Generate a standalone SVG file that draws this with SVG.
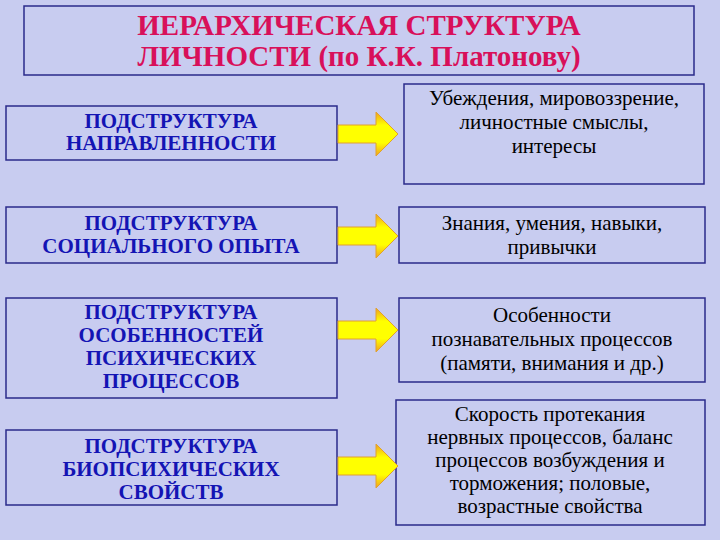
<svg xmlns="http://www.w3.org/2000/svg" width="720" height="540" viewBox="0 0 720 540">
<defs>
<linearGradient id="ar" x1="0" y1="0" x2="0" y2="1"><stop offset="0" stop-color="#f0a020"/><stop offset="0.3" stop-color="#ffff00"/><stop offset="0.7" stop-color="#ffff00"/><stop offset="1" stop-color="#f0a020"/></linearGradient>
<path id="arrow" d="M0,-9 H38 V-22 L60,0 L38,22 V9 H0 Z" fill="url(#ar)" stroke="#e0a030" stroke-width="1"/>
</defs>
<style>
.b{fill:none;stroke:#2a2a8a;stroke-width:1.5}
text{font-family:'Liberation Serif','Times New Roman','DejaVu Serif',serif;text-anchor:middle}
.t{font-weight:bold;font-size:29px;fill:#d8105a}
.l{font-weight:bold;font-size:21px;fill:#1414b4}
.r{font-size:21px;fill:#000}
</style>
<rect width="720" height="540" fill="#c8ccf0"/>
<g id="title"><rect class="b" x="24" y="6" width="670" height="69"/>
<text class="t" x="359" y="35">ИЕРАРХИЧЕСКАЯ СТРУКТУРА</text><text class="t" x="359" y="66">ЛИЧНОСТИ (по К.К. Платонову)</text></g>
<g id="n1"><rect class="b" x="6" y="106" width="331" height="54"/><text class="l" x="171" y="128">ПОДСТРУКТУРА</text><text class="l" x="171" y="150">НАПРАВЛЕННОСТИ</text></g>
<g id="n2"><rect class="b" x="6" y="207" width="331" height="56"/><text class="l" x="171" y="230">ПОДСТРУКТУРА</text><text class="l" x="171" y="253">СОЦИАЛЬНОГО ОПЫТА</text></g>
<g id="n3"><rect class="b" x="6" y="298" width="331" height="100"/><text class="l" x="171" y="319">ПОДСТРУКТУРА</text><text class="l" x="171" y="342">ОСОБЕННОСТЕЙ</text><text class="l" x="171" y="365">ПСИХИЧЕСКИХ</text><text class="l" x="171" y="388">ПРОЦЕССОВ</text></g>
<g id="n4"><rect class="b" x="6" y="430" width="331" height="75"/><text class="l" x="171" y="453">ПОДСТРУКТУРА</text><text class="l" x="171" y="476">БИОПСИХИЧЕСКИХ</text><text class="l" x="171" y="499">СВОЙСТВ</text></g>
<g id="r1"><rect class="b" x="404" y="84" width="300" height="100"/><text class="r" x="554" y="105">Убеждения, мировоззрение,</text><text class="r" x="554" y="129">личностные смыслы,</text><text class="r" x="554" y="153">интересы</text></g>
<g id="r2"><rect class="b" x="399" y="207" width="306" height="56"/><text class="r" x="552" y="230">Знания, умения, навыки,</text><text class="r" x="552" y="254">привычки</text></g>
<g id="r3"><rect class="b" x="399" y="298" width="306" height="84"/><text class="r" x="552" y="322">Особенности</text><text class="r" x="552" y="346">познавательных процессов</text><text class="r" x="552" y="370">(памяти, внимания и др.)</text></g>
<g id="r4"><rect class="b" x="396" y="400" width="309" height="125"/><text class="r" x="550" y="421">Скорость протекания</text><text class="r" x="550" y="444">нервных процессов, баланс</text><text class="r" x="550" y="467">процессов возбуждения и</text><text class="r" x="550" y="490">торможения; половые,</text><text class="r" x="550" y="513">возрастные свойства</text></g>
<g id="connectors">
<use href="#arrow" x="338" y="134"/>
<use href="#arrow" x="338" y="236"/>
<use href="#arrow" x="338" y="330"/>
<use href="#arrow" x="338" y="466"/>
</g>
</svg>
